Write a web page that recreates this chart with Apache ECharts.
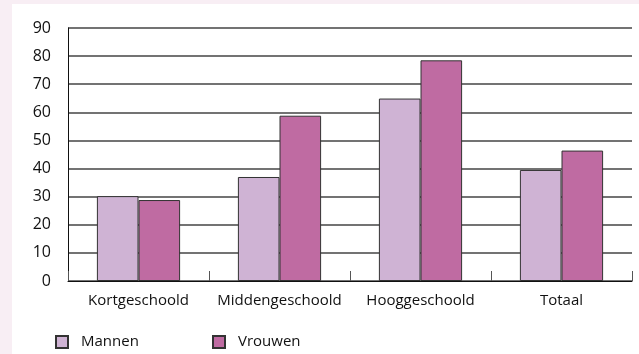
<!DOCTYPE html>
<html>
<head>
<meta charset="utf-8">
<script src="https://cdn.jsdelivr.net/npm/echarts@6/dist/echarts.min.js"></script>
<style>
  html, body { margin: 0; padding: 0; background: #f8eef4; }
  #main { position: absolute; left: 12px; top: 4px; width: 627px; height: 350px; background: #ffffff; }
</style>
</head>
<body>
<div id="main"></div>
<script>
// categorieën op de X-as
var categories = ['Kortgeschoold', 'Middengeschoold', 'Hooggeschoold', 'Totaal'];
// waarden per reeks (in procenten)
var mannen = [30.2, 37, 64.9, 39.5];
var vrouwen = [28.8, 58.8, 78.5, 46.4];
var seriesNames = ['Mannen', 'Vrouwen'];

var myChart = echarts.init(document.getElementById('main'));
var labelFont = '"Open Sans", "Noto Sans", sans-serif';

// één legenda per reeks, zodat de posities vrij te kiezen zijn
function makeLegend(name, left) {
	return {
		data: [name],
		left: left,
		top: 330,
		padding: 0,
		icon: 'rect',
		itemWidth: 12,
		itemHeight: 12,
		textStyle: {
			color: '#111',
			fontSize: 15,
			lineHeight: 16,
			fontFamily: labelFont,
			padding: [0, 0, 0, 8]
		}
	};
}

var option = {
	animation: false,
	textStyle: { fontFamily: labelFont },
	grid: {
		left: 56,
		right: 7,
		top: 24,
		bottom: 73
	},
	legend: [makeLegend(seriesNames[0], 43), makeLegend(seriesNames[1], 200)],
	xAxis: {
		type: 'category',
		data: categories,
		axisLine: { lineStyle: { color: '#111', width: 1 } },
		axisTick: { show: true, interval: 0, inside: true, length: 10, lineStyle: { color: '#555' } },
		axisLabel: { interval: 0, color: '#111', fontSize: 15, margin: 12, fontFamily: labelFont }
	},
	yAxis: {
		type: 'value',
		min: 0,
		max: 90,
		interval: 10,
		axisLine: { show: true, lineStyle: { color: '#111', width: 1 } },
		axisTick: { show: false },
		axisLabel: { color: '#111', fontSize: 16, margin: 17, fontFamily: labelFont },
		splitLine: { lineStyle: { color: '#444', width: 1.5 } }
	},
	series: [{
		name: seriesNames[0],
		type: 'bar',
		data: mannen,
		barGap: 0,
		barCategoryGap: '41%',
		itemStyle: { color: '#cfb3d4', borderColor: '#333', borderWidth: 1 }
	}, {
		name: seriesNames[1],
		type: 'bar',
		data: vrouwen,
		itemStyle: { color: '#bf6ba2', borderColor: '#333', borderWidth: 1 }
	}]
};
myChart.setOption(option);
</script>
</body>
</html>
